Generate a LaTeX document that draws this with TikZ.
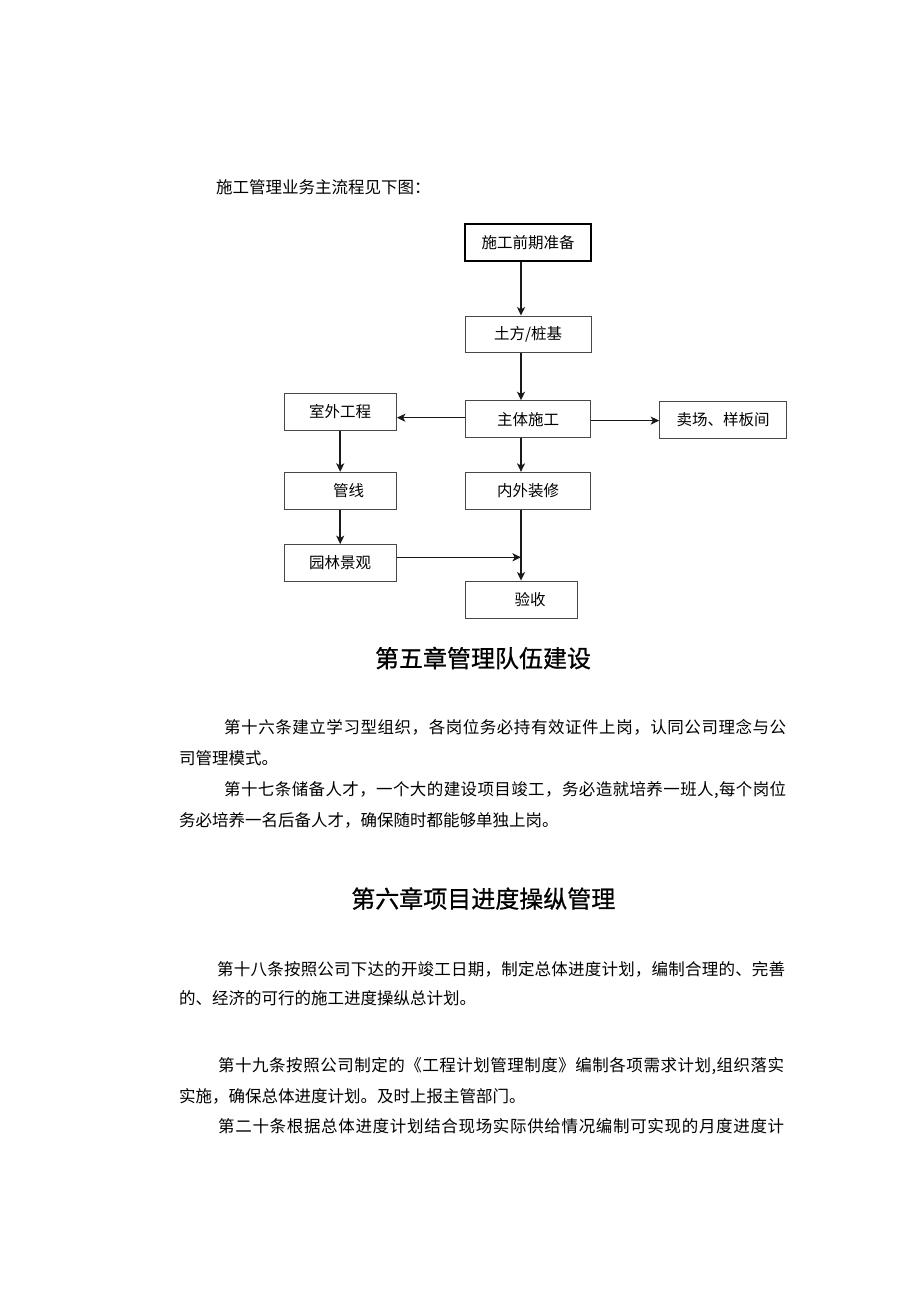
\documentclass[tikz,border=0pt]{standalone}
\usepackage{fontspec}
\setmainfont{Noto Sans CJK SC}
\newfontfamily\cjk{Noto Sans CJK SC}
\newfontfamily\cjkh[FakeBold=0.8]{Noto Sans CJK SC}
\usetikzlibrary{arrows.meta}
\def\spreadchars#1{\spreadaux#1\relax}
\def\spreadaux#1{\ifx#1\relax\else#1\hfil\expandafter\spreadaux\fi}
\newcommand\jline[2]{\hbox to #1{\spreadchars{#2}\unskip}}
\begin{document}
\begin{tikzpicture}[x=1pt,y=-1pt,
  fbox/.style={draw=black!72, line width=1pt, inner sep=0pt, minimum width=125.7pt, minimum height=36.7pt, font=\cjk\fontsize{15.5}{18}\selectfont},
  sbox/.style={fbox, minimum width=112.3pt},
  arr/.style={line width=1.5pt, draw=black!90, -{Stealth[length=8.5pt,width=8pt,inset=2.2pt]}},
  body/.style={anchor=base west, inner sep=0pt, font=\cjk\fontsize{16.5}{20}\selectfont},
  head/.style={anchor=base, inner sep=0pt, font=\cjkh\fontsize{24}{28}\selectfont}]
\fill[white] (0,0) rectangle (920,1301);
\useasboundingbox (0,0) rectangle (920,1301);

% intro
\node[body] (intro) at (216,193.3) {施工管理业务主流程见下图：};

% flowchart boxes
\node[fbox, draw=black, line width=1.8pt] (prep) at (528.2,242.4) {施工前期准备};
\node[fbox] (tufang) at (528.2,334.4) {土方/桩基};
\node[fbox] (zhuti) at (528,419.1) {主体施工};
\node[fbox, minimum width=126.8pt, minimum height=37.7pt] (maic) at (723.1,419.9) {卖场、样板间};
\node[sbox] (shiwai) at (340.2,411.7) {室外工程};
\node[sbox] (guanx) at (340.2,490.7) {\hspace*{16.6pt}管线};
\node[fbox] (neiwai) at (528,490.7) {内外装修};
\node[sbox] (yuanl) at (340.2,563) {园林景观};
\node[sbox, minimum width=112pt, minimum height=37.3pt] (yans) at (521,599.7) {\hspace*{18pt}验收};

% helper coordinates
\coordinate (cx) at (521,0);
\coordinate (ya) at (0,417.7);
\coordinate (yb) at (0,420.6);
\coordinate (jn) at (521,557.3);

% connectors
\draw[arr] (prep.south -| cx) -- (tufang.north -| cx);
\draw[arr] (tufang.south -| cx) -- (zhuti.north -| cx);
\draw[arr] (zhuti.south -| cx) -- (neiwai.north -| cx);
\draw[arr] (neiwai.south -| cx) -- (yans.north);
\draw[arr] (zhuti.west |- ya) -- (shiwai.east |- ya);
\draw[arr] (zhuti.east |- yb) -- (maic.west |- yb);
\draw[arr] (shiwai.south) -- (guanx.north);
\draw[arr] (guanx.south) -- (yuanl.north);
\draw[arr] (yuanl.east |- jn) -- (jn);

% chapter 5
\node[head] (h5) at (483,667.3) {第五章管理队伍建设};
\node[body] (p16a) at (224,733.5) {\jline{562pt}{第十六条建立学习型组织，各岗位务必持有效证件上岗，认同公司理念与公}};
\node[body] (p16b) at (179,764.3) {司管理模式。};
\node[body] (p17a) at (224,795.3) {\jline{562pt}{第十七条储备人才，一个大的建设项目竣工，务必造就培养一班人,每个岗位}};
\node[body] (p17b) at (179,826.3) {务必培养一名后备人才，确保随时都能够单独上岗。};

% chapter 6
\node[head] (h6) at (483.3,907.8) {第六章项目进度操纵管理};
\node[body] (p18a) at (217,975.3) {\jline{568pt}{第十八条按照公司下达的开竣工日期，制定总体进度计划，编制合理的、完善}};
\node[body] (p18b) at (179,1004.6) {的、经济的可行的施工进度操纵总计划。};
\node[body] (p19a) at (218,1071) {\jline{566pt}{第十九条按照公司制定的《工程计划管理制度》编制各项需求计划,组织落实}};
\node[body] (p19b) at (179,1102.3) {实施，确保总体进度计划。及时上报主管部门。};
\node[body] (p20) at (218,1132.8) {\jline{566pt}{第二十条根据总体进度计划结合现场实际供给情况编制可实现的月度进度计}};
\end{tikzpicture}
\end{document}
